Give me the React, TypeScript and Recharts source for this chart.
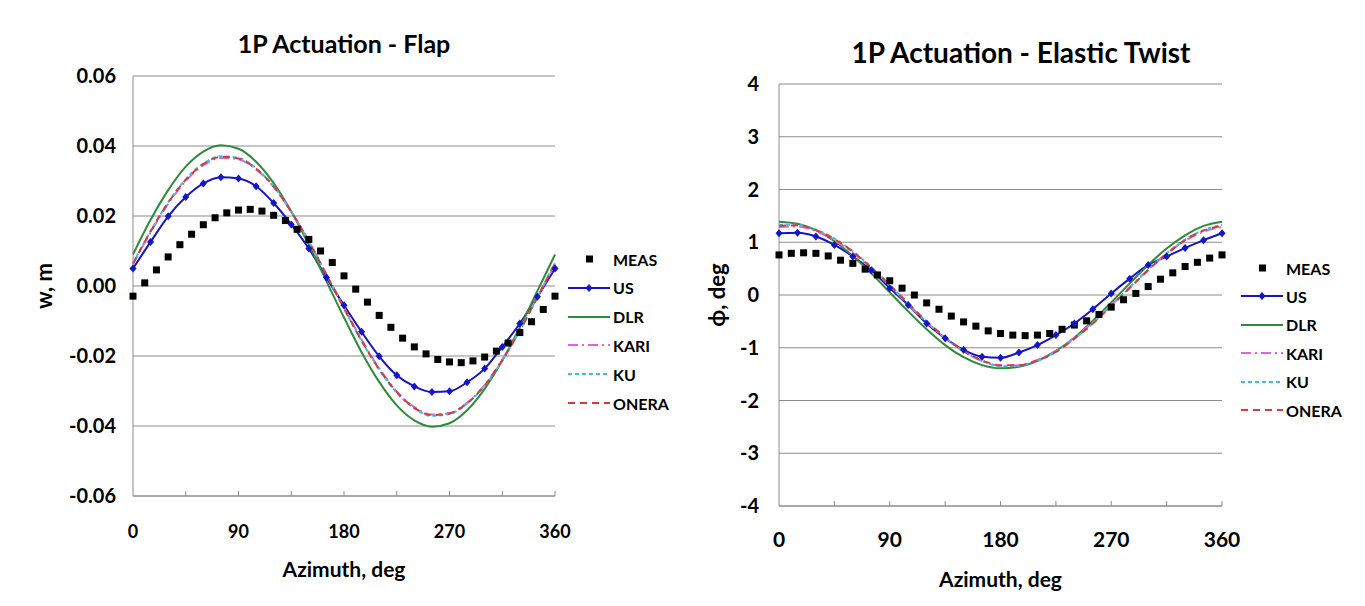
import React from "react";
import { Label, Line, LineChart, CartesianGrid, XAxis, YAxis } from "recharts";

// azimuth stations (deg)
const az10 = [0, 10, 20, 30, 40, 50, 60, 70, 80, 90, 100, 110, 120, 130, 140, 150, 160, 170, 180, 190, 200, 210, 220, 230, 240, 250, 260, 270, 280, 290, 300, 310, 320, 330, 340, 350, 360];
const az15 = [0, 15, 30, 45, 60, 75, 90, 105, 120, 135, 150, 165, 180, 195, 210, 225, 240, 255, 270, 285, 300, 315, 330, 345, 360];

const xTicks = [0, 45, 90, 135, 180, 225, 270, 315, 360];
const flapTicks = [-0.06, -0.04, -0.02, 0, 0.02, 0.04, 0.06];
const twistTicks = [-4, -3, -2, -1, 0, 1, 2, 3, 4];

// flap, w [m]
const flapMeas = [-0.0029, 0.0009, 0.0046, 0.0083, 0.0118, 0.0148, 0.0175, 0.0195, 0.0209, 0.0217, 0.0219, 0.0214, 0.0202, 0.0187, 0.0162, 0.0133, 0.0100, 0.0067, 0.0029, -0.0009, -0.0046, -0.0084, -0.0118, -0.0149, -0.0174, -0.0194, -0.0210, -0.0217, -0.0219, -0.0214, -0.0203, -0.0186, -0.0163, -0.0133, -0.0102, -0.0067, -0.0029];
const flapUS = [0.0050, 0.0126, 0.0199, 0.0254, 0.0293, 0.0311, 0.0307, 0.0285, 0.0237, 0.0176, 0.0107, 0.0024, -0.0055, -0.0131, -0.0201, -0.0255, -0.0287, -0.0303, -0.0301, -0.0275, -0.0236, -0.0174, -0.0107, -0.0031, 0.0050];
const flapDLR = [0.0090, 0.0189, 0.0274, 0.0341, 0.0384, 0.0402, 0.0392, 0.0355, 0.0294, 0.0213, 0.0118, 0.0014, -0.0090, -0.0189, -0.0274, -0.0341, -0.0384, -0.0402, -0.0392, -0.0355, -0.0294, -0.0213, -0.0118, -0.0014, 0.0090];
const flapKARI = [0.0062, 0.0153, 0.0235, 0.0300, 0.0345, 0.0366, 0.0362, 0.0333, 0.0283, 0.0212, 0.0128, 0.0034, -0.0061, -0.0153, -0.0235, -0.0301, -0.0346, -0.0367, -0.0363, -0.0334, -0.0283, -0.0211, -0.0126, -0.0031, 0.0062];
const flapKU = [0.0065, 0.0157, 0.0239, 0.0305, 0.0350, 0.0371, 0.0366, 0.0336, 0.0285, 0.0213, 0.0127, 0.0032, -0.0064, -0.0157, -0.0239, -0.0305, -0.0350, -0.0371, -0.0366, -0.0336, -0.0285, -0.0213, -0.0127, -0.0032, 0.0065];
const flapONERA = [0.0064, 0.0156, 0.0238, 0.0303, 0.0348, 0.0369, 0.0364, 0.0335, 0.0284, 0.0212, 0.0127, 0.0032, -0.0064, -0.0156, -0.0238, -0.0303, -0.0348, -0.0369, -0.0364, -0.0335, -0.0284, -0.0212, -0.0127, -0.0032, 0.0064];

// elastic twist, phi [deg]
const twistMeas = [0.76, 0.79, 0.80, 0.79, 0.74, 0.66, 0.60, 0.49, 0.38, 0.27, 0.13, 0.00, -0.15, -0.27, -0.40, -0.51, -0.59, -0.68, -0.73, -0.76, -0.77, -0.76, -0.73, -0.65, -0.57, -0.49, -0.37, -0.23, -0.09, 0.03, 0.16, 0.30, 0.42, 0.54, 0.62, 0.70, 0.76];
const twistUS = [1.17, 1.18, 1.11, 0.95, 0.73, 0.47, 0.13, -0.19, -0.54, -0.82, -1.04, -1.17, -1.19, -1.09, -0.95, -0.76, -0.54, -0.27, 0.03, 0.31, 0.57, 0.73, 0.89, 1.04, 1.17];
const twistDLR = [1.39, 1.35, 1.23, 1.02, 0.74, 0.41, 0.05, -0.31, -0.65, -0.95, -1.18, -1.33, -1.39, -1.36, -1.25, -1.06, -0.81, -0.49, -0.14, 0.22, 0.57, 0.88, 1.13, 1.31, 1.39];
const twistKARI = [1.29, 1.30, 1.21, 1.04, 0.80, 0.50, 0.17, -0.18, -0.52, -0.82, -1.07, -1.25, -1.34, -1.33, -1.23, -1.06, -0.81, -0.52, -0.19, 0.15, 0.48, 0.78, 1.03, 1.20, 1.29];
const twistKU = [1.33, 1.33, 1.24, 1.07, 0.83, 0.53, 0.19, -0.16, -0.51, -0.81, -1.07, -1.25, -1.35, -1.34, -1.25, -1.08, -0.83, -0.54, -0.20, 0.14, 0.48, 0.79, 1.05, 1.23, 1.33];
const twistONERA = [1.31, 1.32, 1.23, 1.06, 0.82, 0.52, 0.19, -0.16, -0.50, -0.80, -1.06, -1.24, -1.33, -1.33, -1.24, -1.08, -0.83, -0.54, -0.21, 0.13, 0.47, 0.78, 1.04, 1.22, 1.31];

const seriesNames = ["MEAS", "US", "DLR", "KARI", "KU", "ONERA"];

const FONT = "Lato, 'Open Sans', sans-serif";
const GRID = "#8c8c8c";

const toPoints = (az: number[], vals: number[]) => az.map((a, i) => ({ az: a, v: vals[i] }));

const styles: Record<string, { color: string; dash?: string; width: number }> = {
  MEAS: { color: "#000000", width: 0 },
  US: { color: "#1414c8", width: 2 },
  DLR: { color: "#2e8b3a", width: 2 },
  KARI: { color: "#dd66dd", dash: "10 4 2 4", width: 2 },
  KU: { color: "#33c6d6", dash: "4 3", width: 2 },
  ONERA: { color: "#d23c3c", dash: "7 5", width: 2 },
};

const SquareDot = (props: any) => {
  const { cx, cy, index } = props;
  if (cx == null || cy == null) return <g key={index} />;
  return <rect key={index} x={cx - 3.5} y={cy - 3.5} width={7} height={7} fill="#000" />;
};

const DiamondDot = (props: any) => {
  const { cx, cy, index } = props;
  if (cx == null || cy == null) return <g key={index} />;
  return (
    <path
      key={index}
      d={`M${cx},${cy - 4} L${cx + 3.5},${cy} L${cx},${cy + 4} L${cx - 3.5},${cy} Z`}
      fill={styles.US.color}
    />
  );
};

const makeAzTick = (offset: number, size: number) => (props: any) => {
  const { x, y, payload } = props;
  const v = payload.value;
  return (
    <g>
      {v !== 0 && <line x1={x} y1={y} x2={x} y2={y - 5} stroke={GRID} strokeWidth={1} />}
      {v % 90 === 0 && (
        <text x={x} y={y + offset} textAnchor="middle" dominantBaseline="central" fontFamily={FONT} fontWeight={700} fontSize={size} fill="#000">
          {v}
        </text>
      )}
    </g>
  );
};

const LegendSymbol = ({ name }: { name: string }) => {
  const s = styles[name];
  return (
    <svg width={42} height={12} style={{ display: "block" }}>
      {name === "MEAS" ? (
        <rect x={18} y={2.5} width={7} height={7} fill="#000" />
      ) : (
        <>
          <line x1={0} y1={6} x2={42} y2={6} stroke={s.color} strokeWidth={2} strokeDasharray={s.dash} />
          {name === "US" && <path d="M21,2 L24.5,6 L21,10 L17.5,6 Z" fill={s.color} />}
        </>
      )}
    </svg>
  );
};

const SideLegend = ({ left, top, gap }: { left: number; top: number; gap: number }) => (
  <div style={{ position: "absolute", left, top }}>
    {seriesNames.map((n, i) => (
      <div
        key={n}
        style={{ position: "absolute", top: i * gap - 9, left: 0, display: "flex", alignItems: "center", height: 18, whiteSpace: "nowrap" }}
      >
        <LegendSymbol name={n} />
        <span style={{ marginLeft: 3, fontFamily: FONT, fontWeight: 700, fontSize: 16, color: "#000" }}>{n}</span>
      </div>
    ))}
  </div>
);

const renderSeries = (sets: { name: string; az: number[]; vals: number[] }[]) =>
  sets.map(({ name, az, vals }) => {
    const s = styles[name];
    if (name === "MEAS") {
      return (
        <Line
          key={name}
          name={name}
          data={toPoints(az, vals)}
          dataKey="v"
          stroke="none"
          dot={SquareDot}
          activeDot={false}
          isAnimationActive={false}
        />
      );
    }
    return (
      <Line
        key={name}
        name={name}
        type="monotone"
        data={toPoints(az, vals)}
        dataKey="v"
        stroke={s.color}
        strokeWidth={s.width}
        strokeDasharray={s.dash}
        dot={name === "US" ? DiamondDot : false}
        activeDot={false}
        isAnimationActive={false}
      />
    );
  });

const titleStyle: React.CSSProperties = {
  position: "absolute",
  width: 500,
  textAlign: "center",
  fontFamily: FONT,
  fontWeight: 700,
  color: "#000",
  whiteSpace: "nowrap",
};

export default function App() {
  return (
    <div style={{ position: "relative", width: 1349, height: 590, background: "#fff" }}>
      <div style={{ ...titleStyle, left: 336 - 250, top: 20, fontSize: 25, lineHeight: "30px" }}>1P Actuation - Flap</div>
      <div style={{ ...titleStyle, left: 1013 - 250, top: 29, fontSize: 28, lineHeight: "30px" }}>1P Actuation - Elastic Twist</div>

      <div style={{ position: "absolute", left: 0, top: 0 }}>
        <LineChart width={690} height={590} margin={{ top: 68, right: 143, bottom: 42, left: 0 }}>
          <CartesianGrid vertical={false} stroke={GRID} strokeWidth={1} />
          <XAxis
            type="number"
            dataKey="az"
            domain={[0, 360]}
            ticks={xTicks}
            interval={0}
            height={60}
            stroke={GRID}
            tickLine={false}
            tickSize={0}
            tickMargin={0}
            tick={makeAzTick(35, 18)}
          >
            <Label value="Azimuth, deg" position="center" dy={44} fontFamily={FONT} fontWeight={700} fontSize={21} fill="#000" />
          </XAxis>
          <YAxis
            type="number"
            domain={[-0.06, 0.06]}
            ticks={flapTicks}
            interval={0}
            width={125}
            stroke={GRID}
            tickLine={false}
            tickSize={0}
            tickMargin={17}
            tickFormatter={(v: number) => v.toFixed(2)}
            tick={{ fontFamily: FONT, fontWeight: 700, fontSize: 20, fill: "#000" }}
          >
            <Label value="w, m" angle={-90} position="center" dx={-26.5} fontFamily={FONT} fontWeight={700} fontSize={22} fill="#000" />
          </YAxis>
          {renderSeries([
            { name: "MEAS", az: az10, vals: flapMeas },
            { name: "US", az: az15, vals: flapUS },
            { name: "DLR", az: az15, vals: flapDLR },
            { name: "KARI", az: az15, vals: flapKARI },
            { name: "KU", az: az15, vals: flapKU },
            { name: "ONERA", az: az15, vals: flapONERA },
          ])}
        </LineChart>
      </div>
      <SideLegend left={560} top={251} gap={28.8} />

      <div style={{ position: "absolute", left: 690, top: 0 }}>
        <LineChart width={659} height={590} margin={{ top: 76, right: 135, bottom: 32, left: 0 }}>
          <CartesianGrid vertical={false} stroke={GRID} strokeWidth={1} />
          <XAxis
            type="number"
            dataKey="az"
            domain={[0, 360]}
            ticks={xTicks}
            interval={0}
            height={60}
            stroke={GRID}
            tickLine={false}
            tickSize={0}
            tickMargin={0}
            tick={makeAzTick(32, 21)}
          >
            <Label value="Azimuth, deg" position="center" dy={44} fontFamily={FONT} fontWeight={700} fontSize={21} fill="#000" />
          </XAxis>
          <YAxis
            type="number"
            domain={[-4, 4]}
            ticks={twistTicks}
            interval={0}
            width={81}
            stroke={GRID}
            tickLine={false}
            tickSize={0}
            tickMargin={20}
            tick={{ fontFamily: FONT, fontWeight: 700, fontSize: 20, fill: "#000" }}
          >
            <Label value="ϕ, deg" angle={-90} position="center" dx={-21.5} fontFamily={FONT} fontWeight={700} fontSize={22} fill="#000" />
          </YAxis>
          {renderSeries([
            { name: "MEAS", az: az10, vals: twistMeas },
            { name: "US", az: az15, vals: twistUS },
            { name: "DLR", az: az15, vals: twistDLR },
            { name: "KARI", az: az15, vals: twistKARI },
            { name: "KU", az: az15, vals: twistKU },
            { name: "ONERA", az: az15, vals: twistONERA },
          ])}
        </LineChart>
      </div>
      <SideLegend left={1233} top={260} gap={28.4} />
    </div>
  );
}
